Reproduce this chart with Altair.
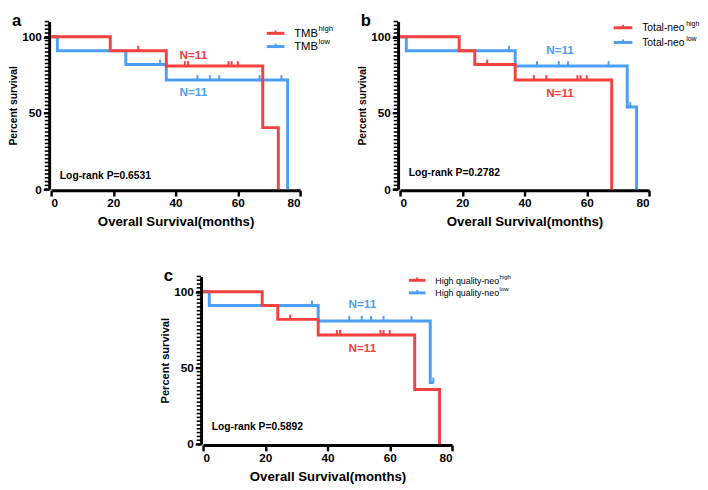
import altair as alt
import pandas as pd

RED = "#F6413F"
BLUE = "#4C9FF4"
FONT = "Liberation Sans"

# ---------------- data ----------------
# Panel a : TMB
a_high_time = [0, 19, 37, 68, 73]
a_high_surv = [100, 90.9, 80.8, 40.4, 0]
a_high_cens_time = [28, 43, 44, 57, 58, 60]
a_high_cens_surv = [90.9, 80.8, 80.8, 80.8, 80.8, 80.8]
a_low_time = [0, 2, 24, 37, 76]
a_low_surv = [100, 90.9, 81.8, 71.6, 0]
a_low_cens_time = [35, 47, 51, 54, 67, 74]
a_low_cens_surv = [81.8, 71.6, 71.6, 71.6, 71.6, 71.6]
a_n_labels = ["N=11", "N=11"]
a_n_time = [45.7, 45.7]
a_n_surv = [87.7, 64.0]
a_pvalue = ["Log-rank P=0.6531"]
a_legend = ["TMB", "TMB"]
a_sup = ["high", "low"]

# Panel b : Total-neo
b_high_time = [0, 19, 24, 37, 68]
b_high_surv = [100, 90.9, 81.8, 71.6, 0]
b_high_cens_time = [28, 43, 47, 57, 58, 60]
b_high_cens_surv = [81.8, 71.6, 71.6, 71.6, 71.6, 71.6]
b_low_time = [0, 2, 37, 73, 76]
b_low_surv = [100, 90.9, 80.8, 53.9, 0]
b_low_cens_time = [35, 44, 51, 54, 67, 74]
b_low_cens_surv = [90.9, 80.8, 80.8, 80.8, 80.8, 53.9]
b_n_labels = ["N=11", "N=11"]
b_n_time = [51.4, 51.4]
b_n_surv = [63.0, 91.6]
b_pvalue = ["Log-rank P=0.2782"]
b_legend = ["Total-neo", "Total-neo"]
b_sup = ["high", "low"]

# Panel c : High quality-neo
c_high_time = [0, 19, 24, 37, 68, 76]
c_high_surv = [100, 90.9, 81.8, 71.6, 35.8, 0]
c_high_cens_time = [28, 43, 44, 57, 58, 60]
c_high_cens_surv = [81.8, 71.6, 71.6, 71.6, 71.6, 71.6]
c_low_time = [0, 2, 37, 73, 74]
c_low_surv = [100, 90.9, 80.8, 40.4, 40.4]
c_low_cens_time = [35, 47, 51, 54, 58, 67, 74]
c_low_cens_surv = [90.9, 80.8, 80.8, 80.8, 80.8, 80.8, 40.4]
c_n_labels = ["N=11", "N=11"]
c_n_time = [51.2, 51.2]
c_n_surv = [62.7, 91.7]
c_pvalue = ["Log-rank P=0.5892"]
c_legend = ["High quality-neo", "High quality-neo"]
c_sup = ["high", "low"]

x_ticks = [0, 20, 40, 60, 80]
y_ticks = [0, 50, 100]
y_minor = [i * 2.5 for i in range(45)]

W, H = 254, 171

ARIAL = {'T': .611, 'M': .833, 'B': .667, 'o': .556, 't': .278, 'a': .556, 'l': .222,
         '-': .333, 'n': .556, 'e': .556, 'H': .722, 'i': .222, 'g': .556, 'h': .556,
         ' ': .278, 'q': .556, 'u': .556, 'y': .5, 'w': .722}


def text_width(s, fs):
    return sum(ARIAL.get(ch, .556) for ch in s) * fs


xs = alt.Scale(domain=[0, 80], nice=False, zero=False)
ys = alt.Scale(domain=[0, 110], nice=False)


def panel(letter, hi_t, hi_s, hi_ct, hi_cs, lo_t, lo_s, lo_ct, lo_cs,
          n_lab, n_t, n_s, n_col, ptext, p_s, leg, sup, leg_fs, leg_x, leg_y, ytitle_fs):
    xaxis = alt.Axis(values=x_ticks, title="Overall Survival(months)", titleFontSize=13.5,
                     titleFontWeight="bold", offset=1, titlePadding=6)
    yaxis = alt.Axis(values=y_ticks, title="Percent survival", titleFontSize=ytitle_fs,
                     titleFontWeight="bold", offset=2, titlePadding=3)

    def line(ts, ss, col):
        df = pd.DataFrame({"t": ts, "s": ss, "o": list(range(len(ts)))})
        return alt.Chart(df).mark_line(interpolate="step-after", strokeWidth=3, color=col).encode(
            x=alt.X("t:Q", scale=xs, axis=xaxis),
            y=alt.Y("s:Q", scale=ys, axis=yaxis),
            order="o:Q")

    def cens(ts, ss, col):
        df = pd.DataFrame({"t": ts, "s": ss})
        return alt.Chart(df).mark_tick(orient="vertical", size=6, thickness=2, yOffset=-2, color=col,
                                       opacity=1).encode(
            x=alt.X("t:Q", scale=xs, axis=xaxis), y=alt.Y("s:Q", scale=ys, axis=yaxis))

    minor = alt.Chart(pd.DataFrame({"s": y_minor})).mark_rule(color="black", strokeWidth=1.6).encode(
        y=alt.Y("s:Q", scale=ys, axis=yaxis), x=alt.value(-6.5), x2=alt.value(-2))

    ndf = pd.DataFrame({"t": n_t, "s": n_s, "lab": n_lab, "col": n_col})
    ntext = alt.Chart(ndf).mark_text(font=FONT, fontSize=12, fontWeight="bold", baseline="middle").encode(
        x=alt.X("t:Q", scale=xs, axis=xaxis), y=alt.Y("s:Q", scale=ys, axis=yaxis), text="lab:N",
        color=alt.Color("col:N", scale=None))

    pdf = pd.DataFrame({"t": [2.8], "s": [p_s], "lab": ptext})
    ptxt = alt.Chart(pdf).mark_text(font=FONT, fontSize=10.5, fontWeight="bold", align="left",
                                    baseline="middle", color="black").encode(
        x=alt.X("t:Q", scale=xs, axis=xaxis), y=alt.Y("s:Q", scale=ys, axis=yaxis), text="lab:N")

    layers = [minor, line(lo_t, lo_s, BLUE), line(hi_t, hi_s, RED),
              cens(lo_ct, lo_cs, BLUE), cens(hi_ct, hi_cs, RED), ntext, ptxt]

    one = pd.DataFrame({"z": [0]})
    for i, col in enumerate([RED, BLUE]):
        ly = leg_y[i]
        layers.append(alt.Chart(one).mark_rule(color=col, strokeWidth=3).encode(
            x=alt.value(leg_x[0]), x2=alt.value(leg_x[1]), y=alt.value(ly)))
        mid = (leg_x[0] + leg_x[1]) / 2
        layers.append(alt.Chart(one).mark_rule(color=col, strokeWidth=2).encode(
            x=alt.value(mid), y=alt.value(ly - 3), y2=alt.value(ly)))
        tx = leg_x[1] + 10
        layers.append(alt.Chart(pd.DataFrame({"lab": [leg[i]]})).mark_text(
            font=FONT, fontSize=leg_fs, align="left", baseline="middle", color="black").encode(
            x=alt.value(tx), y=alt.value(ly + 0.5), text="lab:N"))
        sx = tx + text_width(leg[i], leg_fs) + 0.5
        layers.append(alt.Chart(pd.DataFrame({"lab": [sup[i]]})).mark_text(
            font=FONT, fontSize=leg_fs * 0.68, align="left", baseline="middle", color="black").encode(
            x=alt.value(sx), y=alt.value(ly - leg_fs * 0.38), text="lab:N"))

    layers.append(alt.Chart(pd.DataFrame({"lab": [letter]})).mark_text(
        font=FONT, fontSize=17, fontWeight="bold", align="left", baseline="alphabetic", color="black").encode(
        x=alt.value(-40), y=alt.value(5), text="lab:N"))

    return alt.layer(*layers).properties(width=W, height=H)


pa = panel("a", a_high_time, a_high_surv, a_high_cens_time, a_high_cens_surv,
           a_low_time, a_low_surv, a_low_cens_time, a_low_cens_surv,
           a_n_labels, a_n_time, a_n_surv, [RED, BLUE], a_pvalue, 8.4,
           a_legend, a_sup, 11.5, [220, 238], [12, 25.5], 10.5)
pb = panel("b", b_high_time, b_high_surv, b_high_cens_time, b_high_cens_surv,
           b_low_time, b_low_surv, b_low_cens_time, b_low_cens_surv,
           b_n_labels, b_n_time, b_n_surv, [RED, BLUE], b_pvalue, 10.5,
           b_legend, b_sup, 10.5, [218, 237], [6.3, 21.3], 10.5)
pc = panel("c", c_high_time, c_high_surv, c_high_cens_time, c_high_cens_surv,
           c_low_time, c_low_surv, c_low_cens_time, c_low_cens_surv,
           c_n_labels, c_n_time, c_n_surv, [RED, BLUE], c_pvalue, 11,
           c_legend, c_sup, 9, [210, 227], [4, 16.8], 11.3)

spacer = alt.Chart(pd.DataFrame({"z": [0]})).mark_point(opacity=0).encode(
    x=alt.value(0), y=alt.value(0)).properties(width=135, height=H)

top = alt.hconcat(pa, pb, spacing=102, bounds="flush")
bottom = alt.hconcat(spacer, pc, spacing=20, bounds="flush")

chart = alt.vconcat(top, bottom, spacing=H + 89, bounds="flush").properties(
    padding=0
).configure_view(stroke=None).configure_axis(
    domainColor="black", domainWidth=3, tickColor="black", tickWidth=2.5, tickSize=6,
    labelFont=FONT, labelFontWeight="bold", labelFontSize=12, labelColor="black",
    labelPadding=2, titleFont=FONT, titleColor="black", grid=False
)

chart.save("out.html", embed_options={"renderer": "svg", "actions": False})
